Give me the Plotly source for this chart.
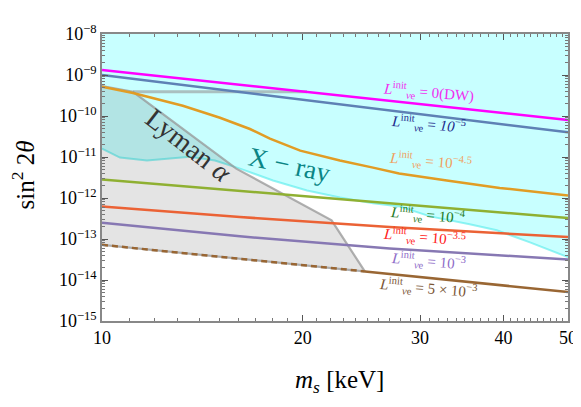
import numpy as np
import plotly.graph_objects as go

ms_ends = [10, 50]
ms_mid = [10, 16.1, 27.0, 50]

# sin^2(2 theta) for each initial lepton asymmetry
dw = [1.33e-9, 8.0e-11]
l_1e5 = [1.0e-9, 4.0e-11]
l_1e4 = [2.82e-12, 3.24e-13]
l_1e35 = [6.2e-13, 3.43e-13, 1.96e-13, 1.12e-13]
l_1e3 = [2.5e-13, 1.16e-13, 5.85e-14, 3.16e-14]
l_5e3 = [7.2e-14, 5.1e-15]

ms_orange = [10, 11.13, 13.22, 15.03, 16.67, 17.86, 19.83, 22.74, 25.5, 27.9, 32.9, 39.5, 50]
l_1e45 = [5.15e-10, 3.62e-10, 1.78e-10, 9.08e-11, 4.82e-11, 2.8e-11, 1.43e-11,
          8.2e-12, 5.5e-12, 3.95e-12, 2.67e-12, 1.76e-12, 1.15e-12]

# X-ray bound (excluded above)
xray_ms = [10, 10.64, 11.68, 12.52, 13.55, 14.77, 16.11, 18.05, 20.3, 22.75, 25.5,
           27.99, 31.05, 35.6, 39.1, 43.85, 50]
xray_s = [1.6e-11, 9.7e-12, 8.2e-12, 9.2e-12, 1.02e-11, 8.2e-12, 5.2e-12, 2.67e-12,
          1.53e-12, 1.03e-12, 7.4e-13, 6.2e-13, 3.56e-13, 2.28e-13, 1.63e-13, 8.3e-14, 3.6e-14]

# Lyman alpha bound (upper / right edge)
lya_ms = [10, 11.13, 15.9, 22.1, 24.8]
lya_s = [5.4e-10, 3.9e-10, 5.2e-12, 2.85e-13, 1.6e-14]
lya_flat_ms = [11.13, 20.3]
lya_flat_s = [3.9e-10, 3.9e-10]

x_ticks = [10, 20, 30, 40, 50]
y_exp = list(range(-15, -7))

serif = "Liberation Serif"


def brown_at(m):
    # straight line in log-log through the two read ends
    a = np.log10(l_5e3[0])
    b = (np.log10(l_5e3[1]) - a) / np.log10(5)
    return 10 ** (a + b * np.log10(m / 10))


fig = go.Figure()

# X-ray excluded region
fig.add_trace(go.Scatter(
    x=xray_ms + [50, 10], y=xray_s + [1e-8, 1e-8],
    fill="toself", fillcolor="#C8FFFF", mode="lines",
    line=dict(color="rgba(0,0,0,0)", width=0), hoverinfo="skip"))
fig.add_trace(go.Scatter(
    x=xray_ms, y=xray_s, mode="lines",
    line=dict(color="rgba(80,235,235,0.6)", width=2), hoverinfo="skip"))

# Lyman alpha region, bottom follows the 5e-3 curve
bot_ms = list(np.linspace(lya_ms[-1], 10, 12))
bot_s = [brown_at(m) for m in bot_ms]
fig.add_trace(go.Scatter(
    x=lya_ms + bot_ms, y=lya_s + bot_s,
    fill="toself", fillcolor="rgba(0,0,0,0.105)", mode="lines",
    line=dict(color="rgba(150,150,150,0.75)", width=2.2), hoverinfo="skip"))
fig.add_trace(go.Scatter(
    x=lya_flat_ms, y=lya_flat_s, mode="lines",
    line=dict(color="rgba(150,150,150,0.6)", width=3), hoverinfo="skip"))

curves = [
    (ms_ends, dw, "#FF00FF"),
    (ms_ends, l_1e5, "#5E81B5"),
    (ms_orange, l_1e45, "#E19C24"),
    (ms_ends, l_1e4, "#8FB032"),
    (ms_mid, l_1e35, "#EB6235"),
    (ms_mid, l_1e3, "#8778B3"),
]
for xs, ys, col in curves:
    fig.add_trace(go.Scatter(x=xs, y=ys, mode="lines",
                             line=dict(color=col, width=2.5), hoverinfo="skip"))

# brown: dashed where it borders the Lyman alpha region
fig.add_trace(go.Scatter(x=[10, lya_ms[-1]], y=[l_5e3[0], brown_at(lya_ms[-1])], mode="lines",
                         line=dict(color="#996633", width=2.5, dash="6px,4px"), hoverinfo="skip"))
fig.add_trace(go.Scatter(x=[lya_ms[-1], 50], y=[brown_at(lya_ms[-1]), l_5e3[1]], mode="lines",
                         line=dict(color="#996633", width=2.5), hoverinfo="skip"))

L = "<i>L</i><sup>init</sup><sub><i>ν</i>e</sub>"
labels = [
    (L + " = 0(DW)", 0.700, 0.798, "#F02EF0"),
    (L + " = <i>10</i><sup>−5</sup>", 0.700, 0.686, "#1C2A8C"),
    (L + " = 10<sup>−4.5</sup>", 0.704, 0.557, "#F0A060"),
    (L + " = 10<sup>−4</sup>", 0.700, 0.369, "#1E7A1E"),
    (L + " = 10<sup>−3.5</sup>", 0.693, 0.293, "#FF1A1A"),
    (L + " = 10<sup>−3</sup>", 0.700, 0.209, "#8E6CC8"),
    (L + " = 5 × 10<sup>−3</sup>", 0.700, 0.115, "#7A5535"),
]
for txt, px, py, col in labels:
    fig.add_annotation(x=px, y=py, xref="paper", yref="paper", text=txt, showarrow=False,
                       xanchor="center", yanchor="middle",
                       textangle=5, font=dict(family=serif, size=15, color=col))

fig.add_annotation(x=0.187, y=0.613, xref="paper", yref="paper", text="Lyman <i>α</i>",
                   showarrow=False, xanchor="center", yanchor="middle",
                   textangle=38, font=dict(family=serif, size=28, color="#333333"))
fig.add_annotation(x=0.403, y=0.544, xref="paper", yref="paper", text="X − ray",
                   showarrow=False, xanchor="center", yanchor="middle",
                   textangle=12, font=dict(family=serif, size=27, color="#0A8585"))

# axis titles
fig.add_annotation(x=0.51, y=-0.21, xref="paper", yref="paper", text="<i>m<sub>s</sub></i> [keV]",
                   showarrow=False, xanchor="center", yanchor="middle",
                   font=dict(family=serif, size=25, color="black"))
fig.add_annotation(x=-0.17, y=0.51, xref="paper", yref="paper", text="sin<sup>2</sup> 2<i>θ</i>",
                   showarrow=False, xanchor="center", yanchor="middle",
                   textangle=-90, font=dict(family=serif, size=25, color="black"))

x_minor = [v for v in range(11, 50) if v not in x_ticks]
y_minor = [k * 10.0 ** e for e in range(-15, -8) for k in range(2, 10)]

fig.update_xaxes(type="log", range=[1, np.log10(50)], tickvals=x_ticks, automargin=False,
                 ticktext=[str(v) for v in x_ticks], ticks="inside", ticklen=6,
                 tickcolor="#555", showline=True, linecolor="#888", linewidth=1.5, mirror="ticks",
                 showgrid=False, zeroline=False,
                 tickfont=dict(family=serif, size=18, color="black"),
                 minor=dict(tickvals=x_minor, ticks="inside", ticklen=3, tickcolor="#777"))
fig.update_yaxes(type="log", range=[-15, -8], tickvals=[10.0 ** e for e in y_exp], automargin=False,
                 ticktext=["10<sup>−%d</sup>" % -e for e in y_exp], ticks="inside", ticklen=6,
                 tickcolor="#555", showline=True, linecolor="#888", linewidth=1.5, mirror="ticks",
                 showgrid=False, zeroline=False,
                 tickfont=dict(family=serif, size=18, color="black"),
                 minor=dict(tickvals=y_minor, ticks="inside", ticklen=3, tickcolor="#777"))

# the page body adds an 8px offset, so the figure is drawn 8px smaller
fig.update_layout(width=573, height=399, showlegend=False,
                  margin=dict(l=94, r=13, t=26, b=86),
                  plot_bgcolor="white", paper_bgcolor="white")

fig.write_html("out.html")
